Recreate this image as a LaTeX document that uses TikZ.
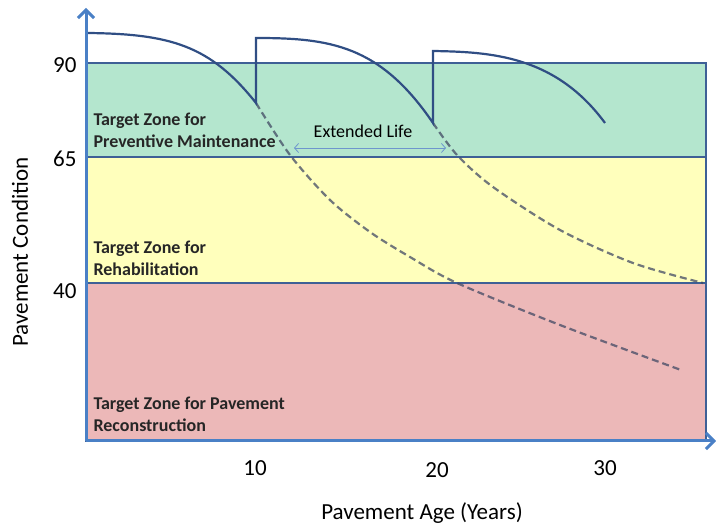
\documentclass[tikz,border=0pt]{standalone}
\usepackage{amsmath}
\usepackage{xcolor}
\usepackage{fontspec}
\setmainfont{Carlito}
\usetikzlibrary{arrows.meta}

\definecolor{zonegreen}{RGB}{180,230,206}
\definecolor{zoneyellow}{RGB}{255,255,188}
\definecolor{zonered}{RGB}{236,184,184}
\definecolor{zoneline}{RGB}{62,96,150}
\definecolor{axisblue}{RGB}{74,128,198}
\definecolor{curveblue}{RGB}{48,78,132}
\definecolor{trendgrey}{RGB}{66,74,100}
\definecolor{lifeblue}{RGB}{110,150,205}

\begin{document}
\begin{tikzpicture}[x=1pt, y=-1pt, >=stealth,
    zone/.style={draw=zoneline, line width=2pt},
    axis/.style={draw=axisblue, line width=3pt},
    life/.style={draw=curveblue, line width=2.2pt},
    trend/.style={draw=trendgrey, line width=2.2pt, dash pattern=on 7pt off 4pt, draw opacity=0.75},
    zonelabel/.style={anchor=west, align=left, text=black!85, font=\bfseries\fontsize{18}{22}\selectfont},
    ticklabel/.style={font=\fontsize{23}{26}\selectfont}]
    \useasboundingbox (0,0) rectangle (716,526);

    % Draw zones
    \fill[zonegreen] (86,63) rectangle (706,157);
    \fill[zoneyellow] (86,157) rectangle (706,283);
    \fill[zonered] (86,283) rectangle (706,441);
    \draw[zone] (86,63) rectangle (706,441);
    \draw[zone] (86,157) -- (706,157);
    \draw[zone] (86,283) -- (706,283);

    % Draw dashed curves
    \draw[trend] plot[smooth] coordinates {(256,103) (290,155) (330,200) (370,232) (410,257) (457,283) (560,325) (681,370)};
    \draw[trend] plot[smooth] coordinates {(433,123) (457,155) (493,187) (560,230) (633,263) (703,283)};

    % Draw condition curves
    \draw[life] (88,33) .. controls (170,34) and (210,45) .. (256,103) -- (256,38)
        .. controls (330,38) and (380,45) .. (433,123) -- (433,51)
        .. controls (490,52) and (555,55) .. (605,123);

    % Draw axes
    \coordinate (origin) at (86,441);
    \coordinate (ytip) at (86,8);
    \coordinate (xtip) at (716,441);
    \draw[axis, -{Straight Barb[length=8pt, width=16pt]}] (origin) -- (ytip);
    \draw[axis, -{Straight Barb[length=8pt, width=16pt]}] (origin) -- (xtip);

    % Draw extended life
    \coordinate (lifeL) at (294,148);
    \coordinate (lifeR) at (446,148);
    \draw[lifeblue, line width=0.8pt, {Straight Barb[length=4pt, width=9pt]}-{Straight Barb[length=4pt, width=9pt]}] (lifeL) -- (lifeR);
    \node[font=\fontsize{18}{20}\selectfont] (extlife) at (363,131) {Extended Life};

    % Labels
    \node[zonelabel] (pm) at (90,130) {Target Zone for\\Preventive Maintenance};
    \node[zonelabel] (rehab) at (90,258) {Target Zone for\\Rehabilitation};
    \node[zonelabel] (recon) at (90,414) {Target Zone for Pavement\\Reconstruction};

    \node[ticklabel, anchor=east] (y90) at (80,65) {90};
    \node[ticklabel, anchor=east] (y65) at (80,159) {65};
    \node[ticklabel, anchor=east] (y40) at (80,291) {40};
    \node[ticklabel] (x10) at (255,468) {10};
    \node[ticklabel] (x20) at (437,470) {20};
    \node[ticklabel] (x30) at (605,468) {30};

    \node[ticklabel] (xlabel) at (422,513) {Pavement Age (Years)};
    \node[ticklabel, rotate=90] (ylabel) at (20,252) {Pavement Condition};
\end{tikzpicture}
\end{document}
